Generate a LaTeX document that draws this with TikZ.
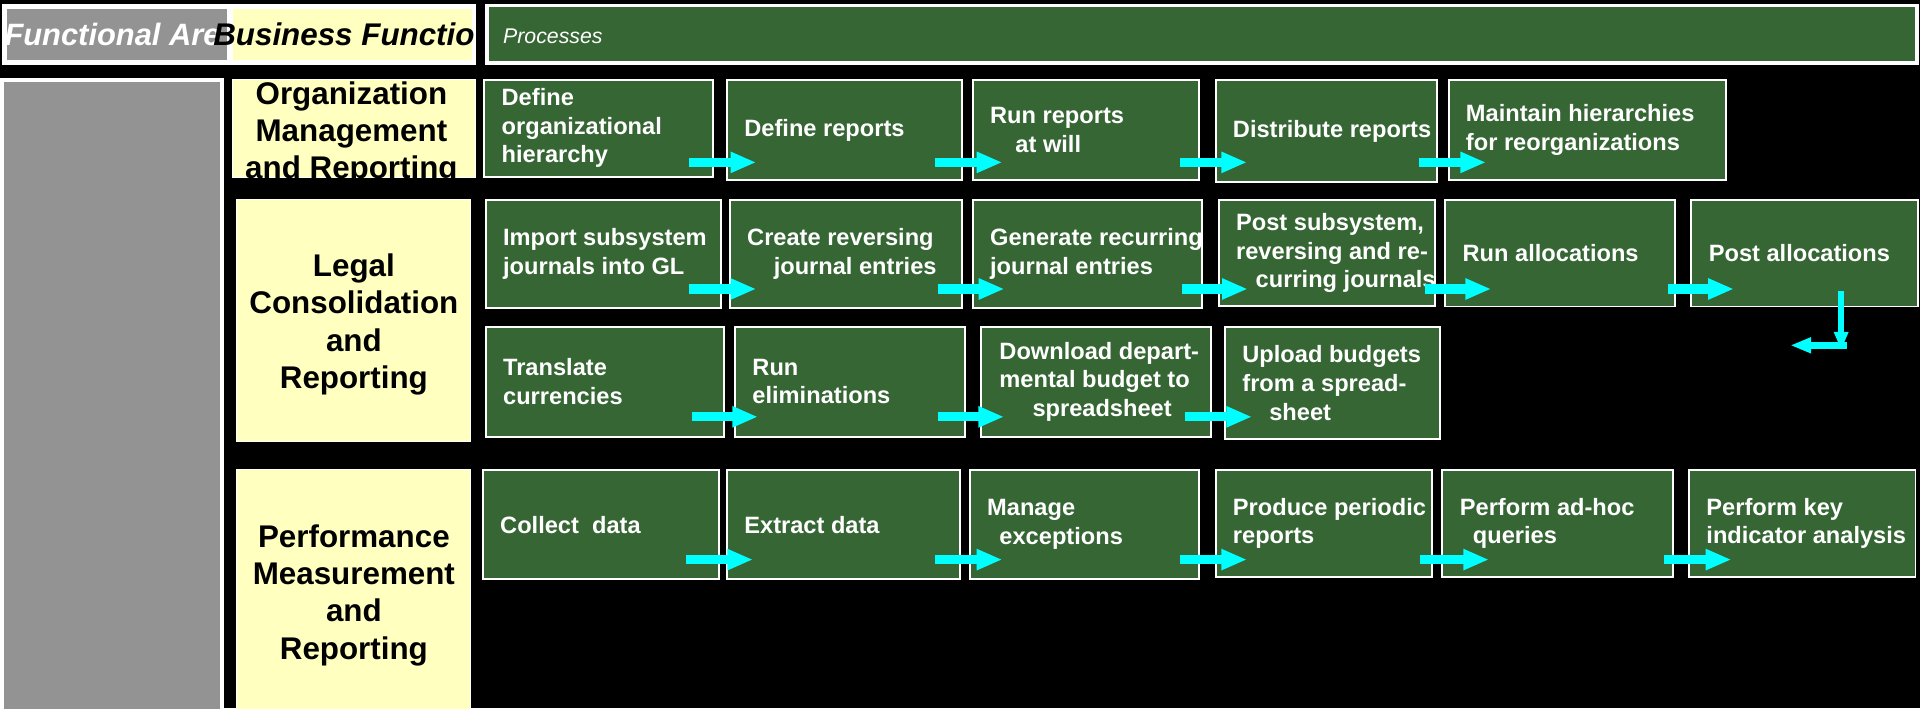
\documentclass[tikz,border=0pt]{standalone}
\usepackage{fontspec}
\setmainfont{Liberation Sans}
\usetikzlibrary{arrows.meta,calc}
\definecolor{procgreen}{RGB}{53,102,51}
\definecolor{funcyellow}{RGB}{255,255,192}
\definecolor{areagray}{RGB}{147,147,147}
\definecolor{flowcyan}{RGB}{0,255,255}
\begin{document}
\begin{tikzpicture}[x=1pt,y=-1pt,
  plainbox/.style={anchor=north west, inner sep=0pt, outer sep=0pt},
  procbox/.style={plainbox, draw=white, line width=1.6pt, fill=procgreen},
  proctext/.style={anchor=west, align=left, text=white, inner sep=0pt, font=\bfseries\fontsize{19.3}{23.3}\selectfont},
  funcbox/.style={plainbox, draw=white, line width=0.8pt, fill=funcyellow},
  functext/.style={align=center, text=black, inner sep=0pt, font=\bfseries\fontsize{25.6}{30.5}\selectfont},
  headtext/.style={anchor=base west, inner sep=0pt, font=\bfseries\itshape\fontsize{25.6}{30}\selectfont},
  flow/.style={draw=flowcyan, line width=7.5pt, -{Triangle[length=21pt,width=16pt]}},
  thinflow/.style={draw=flowcyan, line width=5pt, -{Triangle[length=15pt,width=11pt]}}]
\useasboundingbox (0,0) rectangle (1568,578.2);
\clip (0,0) rectangle (1568,578.2);
\fill[black] (0,0) rectangle (1568,578.2);

% header
\node[plainbox, fill=white, minimum width=387pt, minimum height=50pt] (hframe) at (2,3) {};
\node[plainbox, fill=areagray, minimum width=179pt, minimum height=41.5pt] (harea) at (6,7.5) {};
\node[plainbox, fill=funcyellow, minimum width=195pt, minimum height=41.5pt] (hfunc) at (190.5,7.5) {};
\node[headtext, text=white, font=\bfseries\itshape\fontsize{25.2}{30}\selectfont] (harealbl) at (3.5,37) {Functional Are};
\node[headtext, text=black] (hfunclbl) at (174,37) {Business Functio};
\node[plainbox, draw=white, line width=3pt, fill=procgreen, minimum width=1168pt, minimum height=47pt] (hproc) at (397.5,4.5) {};
\node[anchor=base west, inner sep=0pt, text=white, font=\itshape\fontsize{17.4}{20}\selectfont] (hproclbl) at (410.7,35.5) {Processes};

% functional area column
\node[plainbox, draw=white, line width=3pt, fill=areagray, minimum width=180pt, minimum height=600pt] (area) at (1.5,65.5) {};

% business functions
\node[funcbox, minimum width=198.3pt, minimum height=79.5pt] (f1) at (190,65.3) {};
\begin{scope}
\clip (f1.north west) rectangle (f1.south east);
\node[functext] (f1t) at (287,109) {Organization\\Management\\and Reporting};
\end{scope}
\node[funcbox, minimum width=190.7pt, minimum height=197.4pt] (f2) at (193.3,163.3) {};
\node[functext] (f2t) at (289,265) {Legal\\Consolidation\\and\\Reporting};
\node[funcbox, minimum width=190.7pt, minimum height=230pt] (f3) at (193.3,383.8) {};
\node[functext] (f3t) at (289,486) {Performance\\Measurement\\and\\Reporting};

% row 1
\node[procbox, minimum width=186.5pt, minimum height=79pt] (p11) at (395.5,65.3) {};
\node[proctext] (p11t) at ([xshift=14pt]p11.west) {Define\\organizational\\hierarchy};
\node[procbox, minimum width=191.6pt, minimum height=81.7pt] (p12) at (593.7,65.3) {};
\node[proctext] (p12t) at ([xshift=14pt]p12.west) {Define reports};
\node[procbox, minimum width=184.6pt, minimum height=81.7pt] (p13) at (794.4,65.3) {};
\node[proctext] (p13t) at ([xshift=14pt]p13.west) {Run reports\\\hspace*{20.7pt}at will};
\node[procbox, minimum width=180.9pt, minimum height=83.7pt] (p14) at (992.7,65.3) {};
\node[proctext] (p14t) at ([xshift=14pt]p14.west) {Distribute reports};
\node[procbox, minimum width=226.6pt, minimum height=81.7pt] (p15) at (1183,65.3) {};
\node[proctext] (p15t) at ([xshift=14pt]p15.west) {Maintain hierarchies\\for reorganizations};

% row 2a
\node[procbox, minimum width=192pt, minimum height=88pt] (p21) at (396.7,163.3) {};
\node[proctext] (p21t) at ([xshift=14pt]p21.west) {Import subsystem\\journals into GL};
\node[procbox, minimum width=189.3pt, minimum height=88pt] (p22) at (596,163.3) {};
\node[proctext] (p22t) at ([xshift=14pt]p22.west) {Create reversing\\\hspace*{21.7pt}journal entries};
\node[procbox, minimum width=187.6pt, minimum height=88pt] (p23) at (794.4,163.3) {};
\node[proctext] (p23t) at ([xshift=14pt]p23.west) {Generate recurring\\journal entries};
\node[procbox, minimum width=176.7pt, minimum height=86.7pt] (p24) at (995.3,163.3) {};
\node[proctext] (p24t) at ([xshift=14pt]p24.west) {Post subsystem,\\reversing and re-\\\hspace*{16pt}curring journals};
\node[procbox, minimum width=187.7pt, minimum height=87pt] (p25) at (1180.3,163.3) {};
\node[proctext] (p25t) at ([xshift=14pt]p25.west) {Run allocations};
\node[procbox, minimum width=185.1pt, minimum height=87pt] (p26) at (1381.3,163.3) {};
\node[proctext] (p26t) at ([xshift=14pt]p26.west) {Post allocations};

% row 2b
\node[procbox, minimum width=194.3pt, minimum height=89.8pt] (p31) at (396.7,266.8) {};
\node[proctext] (p31t) at ([xshift=14pt]p31.west) {Translate\\currencies};
\node[procbox, minimum width=187.4pt, minimum height=89.8pt] (p32) at (600.3,266.8) {};
\node[proctext] (p32t) at ([xshift=14pt]p32.west) {Run\\eliminations};
\node[procbox, minimum width=187.6pt, minimum height=89.8pt] (p33) at (801,266.8) {};
\node[proctext] (p33t) at ([xshift=15pt]p33.west) {Download depart-\\mental budget to\\\hspace*{27pt}spreadsheet};
\node[procbox, minimum width=175.6pt, minimum height=92pt] (p34) at (1000.4,266.8) {};
\node[proctext] (p34t) at ([xshift=14pt]p34.west) {Upload budgets\\from a spread-\\\hspace*{22pt}sheet};

% row 3
\node[procbox, minimum width=192.7pt, minimum height=89.2pt] (p41) at (394.3,383.8) {};
\node[proctext] (p41t) at ([xshift=14pt]p41.west) {Collect\ \ data};
\node[procbox, minimum width=190pt, minimum height=89.2pt] (p42) at (593.7,383.8) {};
\node[proctext] (p42t) at ([xshift=14pt]p42.west) {Extract data};
\node[procbox, minimum width=187.3pt, minimum height=89.2pt] (p43) at (792,383.8) {};
\node[proctext] (p43t) at ([xshift=14pt]p43.west) {Manage\\\hspace*{10pt}exceptions};
\node[procbox, minimum width=176.6pt, minimum height=87.2pt] (p44) at (992.7,383.8) {};
\node[proctext] (p44t) at ([xshift=14pt]p44.west) {Produce periodic\\reports};
\node[procbox, minimum width=188pt, minimum height=87.2pt] (p45) at (1178,383.8) {};
\node[proctext] (p45t) at ([xshift=14pt]p45.west) {Perform ad-hoc\\\hspace*{10.7pt}queries};
\node[procbox, minimum width=184.9pt, minimum height=87.2pt] (p46) at (1379.4,383.8) {};
\node[proctext] (p46t) at ([xshift=14pt]p46.west) {Perform key\\indicator analysis};

% arrow rows
\coordinate (r1) at (0,132.6);
\coordinate (r2) at (0,236);
\coordinate (r3) at (0,340.4);
\coordinate (r4) at (0,457);

\draw[flow] ($(p11.east|-r1)+(-19.3,0)$) -- ($(p12.west|-r1)+(23.9,0)$);
\draw[flow] ($(p12.east|-r1)+(-21.9,0)$) -- ($(p13.west|-r1)+(24.2,0)$);
\draw[flow] ($(p13.east|-r1)+(-15.5,0)$) -- ($(p14.west|-r1)+(25.7,0)$);
\draw[flow] ($(p14.east|-r1)+(-14.9,0)$) -- ($(p15.west|-r1)+(30.6,0)$);

\draw[flow] ($(p21.east|-r2)+(-26,0)$) -- ($(p22.west|-r2)+(21.6,0)$);
\draw[flow] ($(p22.east|-r2)+(-19.3,0)$) -- ($(p23.west|-r2)+(25.9,0)$);
\draw[flow] ($(p23.east|-r2)+(-16.7,0)$) -- ($(p24.west|-r2)+(23.7,0)$);
\draw[flow] ($(p24.east|-r2)+(-8.3,0)$) -- ($(p25.west|-r2)+(37.5,0)$);
\draw[flow] ($(p25.east|-r2)+(-6,0)$) -- ($(p26.west|-r2)+(34.7,0)$);

\draw[flow] ($(p31.east|-r3)+(-26,0)$) -- ($(p32.west|-r3)+(18.7,0)$);
\draw[flow] ($(p32.east|-r3)+(-21.7,0)$) -- ($(p33.west|-r3)+(19,0)$);
\draw[flow] ($(p33.east|-r3)+(-20.9,0)$) -- ($(p34.west|-r3)+(22.1,0)$);

\draw[flow] ($(p41.east|-r4)+(-27,0)$) -- ($(p42.west|-r4)+(21.3,0)$);
\draw[flow] ($(p42.east|-r4)+(-20.3,0)$) -- ($(p43.west|-r4)+(26.6,0)$);
\draw[flow] ($(p43.east|-r4)+(-15.8,0)$) -- ($(p44.west|-r4)+(25.7,0)$);
\draw[flow] ($(p44.east|-r4)+(-9.3,0)$) -- ($(p45.west|-r4)+(38,0)$);
\draw[flow] ($(p45.east|-r4)+(-7,0)$) -- ($(p46.west|-r4)+(34.6,0)$);

% bent arrow below Post allocations
\coordinate (b1) at ($(p26.south)+(29.75,-12.3)$);
\coordinate (b2) at ($(b1)+(0,48)$);
\coordinate (b3) at ($(b1)+(4.4,44)$);
\coordinate (b4) at ($(b1)+(-41.6,44)$);
\draw[thinflow] (b1) -- (b2);
\draw[thinflow, line width=5.4pt, -{Triangle[length=17pt,width=12pt]}] (b3) -- (b4);
\end{tikzpicture}
\end{document}
